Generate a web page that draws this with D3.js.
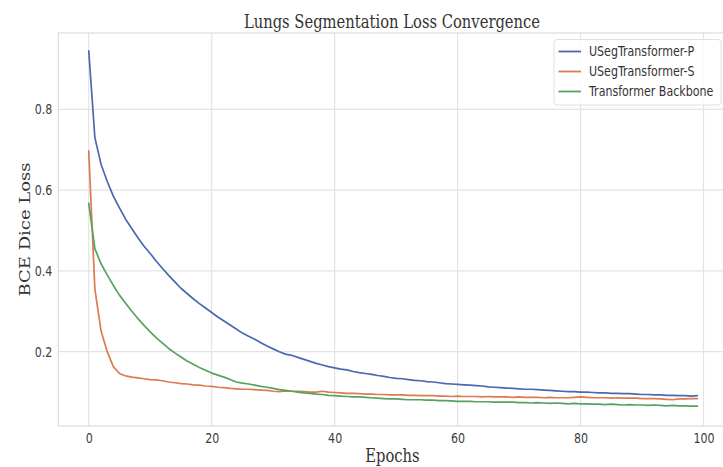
<!DOCTYPE html>
<html>
<head>
<meta charset="utf-8">
<script src="https://cdn.jsdelivr.net/npm/d3@7"></script>
<style>
  html, body { margin: 0; padding: 0; background: #fff; }
  svg { display: block; }
</style>
</head>
<body>
<svg id="chart" width="723" height="467"></svg>
<script>
// ---------------- data ----------------
const epochs = d3.range(0, 100);

const usegP = [
  0.945, 0.730, 0.664, 0.622, 0.585, 0.556, 0.528, 0.505, 0.482, 0.461,
  0.443, 0.424, 0.406, 0.389, 0.373, 0.357, 0.344, 0.331, 0.319, 0.308,
  0.297, 0.286, 0.276, 0.266, 0.256, 0.246, 0.238, 0.231, 0.222, 0.214,
  0.207, 0.200, 0.194, 0.191, 0.186, 0.181, 0.176, 0.171, 0.167, 0.163,
  0.160, 0.157, 0.155, 0.151, 0.148, 0.146, 0.144, 0.141, 0.139, 0.136,
  0.134, 0.133, 0.131, 0.129, 0.128, 0.126, 0.125, 0.123, 0.121, 0.120,
  0.119, 0.118, 0.117, 0.116, 0.115, 0.113, 0.112, 0.111, 0.110, 0.109,
  0.108, 0.107, 0.107, 0.106, 0.105, 0.104, 0.103, 0.102, 0.101, 0.101,
  0.100, 0.100, 0.099, 0.098, 0.098, 0.097, 0.097, 0.096, 0.096, 0.095,
  0.094, 0.094, 0.093, 0.093, 0.092, 0.092, 0.091, 0.091, 0.090, 0.091
];

const usegS = [
  0.697, 0.355, 0.252, 0.200, 0.163, 0.146, 0.140, 0.137, 0.135, 0.133,
  0.131, 0.130, 0.128, 0.125, 0.123, 0.121, 0.120, 0.118, 0.117, 0.115,
  0.114, 0.112, 0.111, 0.109, 0.108, 0.107, 0.107, 0.106, 0.105, 0.104,
  0.102, 0.101, 0.103, 0.102, 0.102, 0.101, 0.100, 0.100, 0.102, 0.100,
  0.099, 0.098, 0.097, 0.097, 0.096, 0.095, 0.095, 0.094, 0.094, 0.093,
  0.093, 0.093, 0.092, 0.092, 0.091, 0.091, 0.091, 0.090, 0.090, 0.089,
  0.090, 0.089, 0.089, 0.089, 0.088, 0.089, 0.088, 0.088, 0.088, 0.087,
  0.088, 0.087, 0.087, 0.087, 0.086, 0.087, 0.086, 0.086, 0.086, 0.087,
  0.088, 0.087, 0.086, 0.086, 0.086, 0.085, 0.086, 0.085, 0.085, 0.085,
  0.084, 0.084, 0.084, 0.083, 0.082, 0.081, 0.083, 0.083, 0.084, 0.084
];

const backbone = [
  0.567, 0.455, 0.418, 0.390, 0.364, 0.340, 0.320, 0.300, 0.282, 0.265,
  0.249, 0.234, 0.221, 0.208, 0.197, 0.187, 0.177, 0.169, 0.161, 0.154,
  0.147, 0.142, 0.137, 0.131, 0.125, 0.122, 0.120, 0.117, 0.114, 0.112,
  0.109, 0.106, 0.104, 0.102, 0.100, 0.098, 0.097, 0.095, 0.094, 0.092,
  0.091, 0.090, 0.089, 0.088, 0.088, 0.087, 0.086, 0.085, 0.084, 0.083,
  0.083, 0.082, 0.081, 0.081, 0.081, 0.080, 0.080, 0.079, 0.079, 0.078,
  0.077, 0.077, 0.077, 0.076, 0.076, 0.076, 0.075, 0.075, 0.075, 0.075,
  0.074, 0.074, 0.073, 0.074, 0.073, 0.072, 0.073, 0.072, 0.071, 0.072,
  0.071, 0.071, 0.070, 0.070, 0.069, 0.070, 0.069, 0.068, 0.069, 0.068,
  0.068, 0.067, 0.068, 0.067, 0.066, 0.067, 0.066, 0.066, 0.065, 0.065
];

const seriesNames = ["USegTransformer-P", "USegTransformer-S", "Transformer Backbone"];
const seriesColors = ["#4c68b3", "#dd7a52", "#55a35f"];
const xTicks = [0, 20, 40, 60, 80, 100];
const yTicks = [0.2, 0.4, 0.6, 0.8];

const titleText = "Lungs Segmentation Loss Convergence";
const xLabel = "Epochs";
const yLabel = "BCE Dice Loss";

// ---------------- layout ----------------
const SQ = 0.82; // horizontal squeeze of the reference picture
const svg = d3.select("#chart");
const plot = { left: 58.3, right: 727.8, top: 33, bottom: 426 };

const x = d3.scaleLinear().domain([-4.95, 103.95]).range([plot.left, plot.right]);
const y = d3.scaleLinear().domain([0.016, 0.989]).range([plot.bottom, plot.top]);

// squeeze text horizontally around its own anchor x
function squeeze(sel) {
  sel.each(function () {
    const xa = +(this.getAttribute("x") || 0);
    d3.select(this).attr("transform", `translate(${xa},0) scale(${SQ},1) translate(${-xa},0)`);
  });
}

// grid
const grid = svg.append("g");
grid.selectAll(".gx").data(xTicks).join("line")
  .attr("x1", d => x(d)).attr("x2", d => x(d))
  .attr("y1", plot.top).attr("y2", plot.bottom)
  .attr("stroke", "#e3e3e3").attr("stroke-width", 1.2);
grid.selectAll(".gy").data(yTicks).join("line")
  .attr("x1", plot.left).attr("x2", plot.right)
  .attr("y1", d => y(d)).attr("y2", d => y(d))
  .attr("stroke", "#e3e3e3").attr("stroke-width", 1.2);

// spines
svg.append("rect")
  .attr("x", plot.left).attr("y", plot.top)
  .attr("width", plot.right - plot.left).attr("height", plot.bottom - plot.top)
  .attr("fill", "none").attr("stroke", "#dcdcdc").attr("stroke-width", 1.2);

// axes
const xAxis = svg.append("g")
  .attr("transform", `translate(0,${plot.bottom})`)
  .call(d3.axisBottom(x).tickValues(xTicks).tickFormat(d3.format("d")).tickSize(0).tickPadding(7.4));
const yAxis = svg.append("g")
  .attr("transform", `translate(${plot.left},0)`)
  .call(d3.axisLeft(y).tickValues(yTicks).tickFormat(d3.format(".1f")).tickSize(0).tickPadding(6));
[xAxis, yAxis].forEach(a => {
  a.select(".domain").remove();
  a.selectAll("text")
    .attr("font-family", "DejaVu Sans")
    .attr("font-size", 13.5)
    .attr("fill", "#3d3d3d");
  squeeze(a.selectAll("text"));
});

// lines
const allSeries = [usegP, usegS, backbone];
const line = d3.line().x((d, i) => x(epochs[i])).y(d => y(d));
svg.append("g").selectAll("path").data(allSeries).join("path")
  .attr("d", d => line(d))
  .attr("fill", "none")
  .attr("stroke", (d, i) => seriesColors[i])
  .attr("stroke-width", 1.7)
  .attr("stroke-linejoin", "round")
  .attr("stroke-linecap", "round");

// title & labels
const title = svg.append("text")
  .attr("x", 392).attr("y", 28)
  .attr("text-anchor", "middle")
  .attr("font-family", "DejaVu Serif").attr("font-size", 18)
  .attr("fill", "#333").text(titleText);
squeeze(title);

const xl = svg.append("text")
  .attr("x", 392.5).attr("y", 462)
  .attr("text-anchor", "middle")
  .attr("font-family", "DejaVu Serif").attr("font-size", 18)
  .attr("fill", "#333").text(xLabel);
squeeze(xl);

svg.append("g")
  .attr("transform", `translate(29.5,${(plot.top + plot.bottom) / 2}) scale(${SQ},1) rotate(-90)`)
  .append("text")
  .attr("text-anchor", "middle")
  .attr("font-family", "DejaVu Serif").attr("font-size", 18)
  .attr("fill", "#333").text(yLabel);

// legend
const lg = svg.append("g");
lg.append("rect")
  .attr("x", 554).attr("y", 39.5).attr("width", 167).attr("height", 65.5)
  .attr("rx", 3).attr("ry", 3)
  .attr("fill", "#fff").attr("fill-opacity", 0.85)
  .attr("stroke", "#e0e0e0").attr("stroke-width", 1);
const rowY = d3.scalePoint().domain(seriesNames).range([51.5, 91.5]);
const items = lg.selectAll(".item").data(seriesNames).join("g")
  .attr("transform", d => `translate(0,${rowY(d)})`);
items.append("line")
  .attr("x1", 558.5).attr("x2", 581)
  .attr("stroke", (d, i) => seriesColors[i]).attr("stroke-width", 1.8);
const lt = items.append("text")
  .attr("x", 589).attr("dy", "0.35em")
  .attr("font-family", "DejaVu Sans").attr("font-size", 13.5)
  .attr("fill", "#333").text(d => d);
squeeze(lt);
</script>
</body>
</html>
